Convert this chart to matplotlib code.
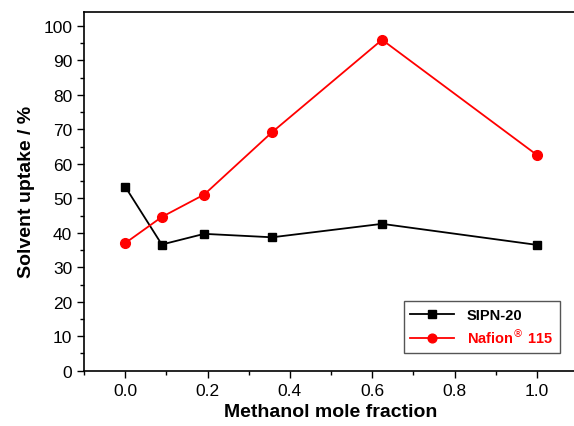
import matplotlib.pyplot as plt
from matplotlib.ticker import MultipleLocator

plt.rcParams['font.family'] = ['Liberation Sans', 'DejaVu Sans']

# data
x_frac = [0.0, 0.089, 0.192, 0.357, 0.624, 1.0]
sipn20 = [53.4, 36.6, 39.7, 38.7, 42.6, 36.5]
nafion = [37.0, 44.6, 51.1, 69.2, 96.0, 62.6]
series_names = ['SIPN-20', 'Nafion$^{\\circledR}$ 115']


def main():
    fig = plt.figure(figsize=(5.74, 4.27), dpi=100)
    ax = fig.add_axes([84 / 574, 1 - 371.7 / 427, (578 - 84) / 574, (371.7 - 12.5) / 427])

    ax.plot(x_frac, sipn20, color='black', marker='s', markersize=6, lw=1.3,
            label=series_names[0])
    ax.plot(x_frac, nafion, color='red', marker='o', markersize=7, lw=1.3,
            label=series_names[1])

    ax.set_xlim(-0.1, 1.1)
    ax.set_ylim(0, 104.2)
    ax.xaxis.set_major_locator(MultipleLocator(0.2))
    ax.xaxis.set_minor_locator(MultipleLocator(0.1))
    ax.yaxis.set_major_locator(MultipleLocator(10))
    ax.yaxis.set_minor_locator(MultipleLocator(5))
    ax.set_xticks([0.0, 0.2, 0.4, 0.6, 0.8, 1.0])
    ax.tick_params(which='major', direction='out', length=5, width=1, labelsize=12.5)
    ax.tick_params(which='minor', direction='out', length=3, width=1)
    for s in ax.spines.values():
        s.set_linewidth(1.2)

    ax.set_xlabel('Methanol mole fraction', fontsize=14, fontweight='bold', labelpad=4)
    ax.set_ylabel('Solvent uptake / %', fontsize=14, fontweight='bold', labelpad=6)

    leg = ax.legend(loc='lower right', bbox_to_anchor=(560 / 574, 1 - 354 / 427),
                    bbox_transform=fig.transFigure, borderaxespad=0, fancybox=False,
                    framealpha=1, edgecolor='#555555',
                    prop={'weight': 'bold', 'size': 10.5}, markerscale=0.9,
                    handlelength=3, handletextpad=0.9, borderpad=0.45,
                    labelspacing=0.35)
    leg.get_frame().set_linewidth(1.0)
    for t, c in zip(leg.get_texts(), ['black', 'red']):
        t.set_color(c)

    fig.savefig('out.png', dpi=100)


if __name__ == '__main__':
    main()
